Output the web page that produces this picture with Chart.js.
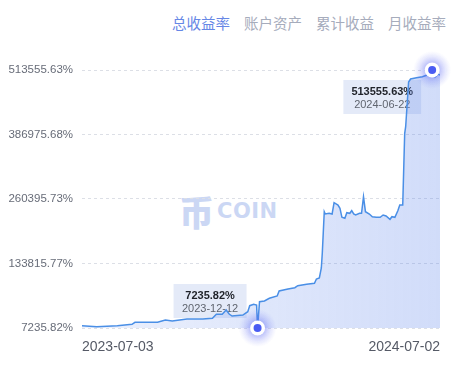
<!DOCTYPE html>
<html>
<head>
<meta charset="utf-8">
<script src="https://cdn.jsdelivr.net/npm/chart.js@4.4.1/dist/chart.umd.min.js"></script>
<style>
    html, body { margin: 0; padding: 0; background: #fff; }
    #wrap { position: relative; width: 465px; height: 369px; overflow: hidden; }
    #tabs { position: absolute; top: 12px; left: 172px; font-family: "Noto Sans CJK SC"; font-size: 14.5px; line-height: 22px; white-space: nowrap; }
    #tabs span { color: #a6acbc; margin-right: 14px; }
    #tabs span.active { color: #6687e6; }
    #mark { position: absolute; left: 179px; top: 193px; height: 36px; display: flex; align-items: center; color: #cbd7f4; font-weight: bold; white-space: nowrap; }
    #mark .bi { font-family: "Noto Sans CJK SC"; font-weight: 900; font-size: 35px; line-height: 36px; }
    #mark .coin { font-family: "DejaVu Sans"; font-weight: bold; font-size: 21px; letter-spacing: 0.5px; margin-left: 3px; }
    canvas { position: absolute; left: 0; top: 0; }
</style>
</head>
<body>
<div id="wrap">
    <div id="tabs"><span class="active">总收益率</span><span>账户资产</span><span>累计收益</span><span>月收益率</span></div>
    <div id="mark"><span class="bi">币</span><span class="coin">COIN</span></div>
    <canvas id="returnChart" width="465" height="369"></canvas>
</div>
<script>
// Total return curve, 2023-07-03 .. 2024-07-02
const xTickLabels = ['2023-07-03', '2024-07-02'];
const yTickValues = [7235.82, 133815.77, 260395.73, 386975.68, 513555.63];

// day offset from first date / total return (%)
const dayIndex = [
    0, 15, 36, 51, 54, 77, 85, 92, 107, 123,
    133, 137, 143, 147, 150, 153, 164, 169, 171, 175,
    178, 179, 181, 186, 191, 199, 201, 210, 217, 220,
    229, 237, 239, 242, 244, 245, 247, 248, 252, 255,
    257, 261, 263, 265, 268, 270, 273, 275, 277, 279,
    283, 285, 287, 289, 293, 296, 300, 304, 307, 310,
    314, 316, 319, 322, 324, 327, 329, 330, 333, 335,
    341, 347, 352, 357, 360, 363, 365
];
const totalReturn = [
    11750, 9787, 11750, 14497, 18422, 18422, 22936, 20973, 24898, 24898,
    26272, 34122, 34122, 42560, 34710, 30785, 32748, 39224, 51000, 53747,
    52374, 7235.82, 58850, 60224, 65523, 70036, 79849, 83774, 86325, 90250,
    92998, 94960, 103398, 105361, 124986, 154424, 235475, 230961, 232335, 230961,
    253137, 248623, 242147, 224485, 222522, 233512, 232335, 237437, 230961, 228999,
    232335, 232335, 264913, 235475, 230961, 225662, 224485, 224485, 228999, 227036,
    220560, 225662, 224485, 237437, 248623, 248623, 389333, 402285, 490000, 495899,
    498450, 500413, 503749, 513555.63, 499824, 505711, 503749
];

// highlighted points (min and max)
const markedDays = [179, 357];
const markedDates = ['2023-12-12', '2024-06-22'];

const FONT = '"Liberation Sans", Arial, sans-serif';

const markerPlugin = {
    id: 'markers',
    beforeDatasetsDraw(chart) {
        const ctx = chart.ctx;
        const meta = chart.getDatasetMeta(0);
        const area = chart.chartArea;
        markedDays.forEach((day, k) => {
            const i = dayIndex.indexOf(day);
            const pt = meta.data[i];
            const valueText = totalReturn[i].toFixed(2) + '%';
            ctx.save();
            ctx.font = 'bold 11px ' + FONT;
            const w1 = ctx.measureText(valueText).width;
            ctx.font = '11px ' + FONT;
            const w2 = ctx.measureText(markedDates[k]).width;
            const w = Math.max(73, Math.max(w1, w2) + 16);
            const h = 34;
            const bx = pt.x - 11 - w;
            const by = pt.y > (area.top + area.bottom) / 2 ? pt.y - 10 - h : pt.y + 10;
            ctx.fillStyle = 'rgba(218, 226, 245, 0.72)';
            ctx.fillRect(bx, by, w, h);
            ctx.textAlign = 'center';
            ctx.textBaseline = 'middle';
            ctx.fillStyle = '#1f2229';
            ctx.font = 'bold 11px ' + FONT;
            ctx.fillText(valueText, bx + w / 2, by + 11.5);
            ctx.fillStyle = '#60656f';
            ctx.font = '11px ' + FONT;
            ctx.fillText(markedDates[k], bx + w / 2, by + 24.5);
            ctx.restore();
        });
    },
    afterDatasetsDraw(chart) {
        const ctx = chart.ctx;
        const meta = chart.getDatasetMeta(0);
        markedDays.forEach((day) => {
            const pt = meta.data[dayIndex.indexOf(day)];
            ctx.save();
            const glow = ctx.createRadialGradient(pt.x, pt.y, 4, pt.x, pt.y, 19);
            glow.addColorStop(0, 'rgba(95, 105, 245, 0.35)');
            glow.addColorStop(1, 'rgba(95, 105, 245, 0)');
            ctx.fillStyle = glow;
            ctx.beginPath();
            ctx.arc(pt.x, pt.y, 19, 0, Math.PI * 2);
            ctx.fill();
            ctx.shadowColor = 'rgba(80, 95, 240, 0.45)';
            ctx.shadowBlur = 8;
            ctx.fillStyle = '#ffffff';
            ctx.beginPath();
            ctx.arc(pt.x, pt.y, 7.5, 0, Math.PI * 2);
            ctx.fill();
            ctx.shadowBlur = 0;
            ctx.fillStyle = '#4a5cf2';
            ctx.beginPath();
            ctx.arc(pt.x, pt.y, 4, 0, Math.PI * 2);
            ctx.fill();
            ctx.restore();
        });
    }
};

const canvas = document.getElementById('returnChart');
new Chart(canvas, {
    type: 'line',
    data: {
        datasets: [{
            data: dayIndex.map((d, i) => ({ x: d, y: totalReturn[i] })),
            borderColor: '#4a8fe6',
            borderWidth: 1.5,
            pointRadius: 0,
            tension: 0,
            fill: 'start',
            backgroundColor: (context) => {
                const area = context.chart.chartArea;
                if (!area) return 'rgba(90, 130, 235, 0.15)';
                const g = context.chart.ctx.createLinearGradient(area.left, 0, area.right, 0);
                g.addColorStop(0, 'rgba(90, 130, 235, 0.11)');
                g.addColorStop(1, 'rgba(90, 130, 235, 0.28)');
                return g;
            }
        }]
    },
    options: {
        responsive: false,
        animation: false,
        events: [],
        layout: {
            padding: { top: 70, right: 25, left: 0, bottom: 0 }
        },
        plugins: {
            legend: { display: false },
            tooltip: { enabled: false }
        },
        scales: {
            x: {
                type: 'linear',
                min: 0,
                max: 365,
                grid: { display: false, drawTicks: false },
                border: { display: false },
                afterBuildTicks: (scale) => {
                    scale.ticks = [{ value: 0 }, { value: 365 }];
                },
                afterFit: (scale) => { scale.height = 41; },
                ticks: {
                    align: 'inner',
                    autoSkip: false,
                    maxRotation: 0,
                    padding: 11,
                    color: '#555a66',
                    font: { family: FONT, size: 14 },
                    callback: (value, index) => xTickLabels[index]
                }
            },
            y: {
                type: 'linear',
                min: yTickValues[0],
                max: yTickValues[yTickValues.length - 1],
                grid: { color: '#dcdfe6', drawTicks: false },
                border: { display: false, dash: [3, 3] },
                afterBuildTicks: (scale) => {
                    scale.ticks = yTickValues.map(v => ({ value: v }));
                },
                afterFit: (scale) => { scale.width = 82; },
                ticks: {
                    padding: 9,
                    color: '#676c78',
                    font: { family: FONT, size: 11.5 },
                    callback: (value, index) => yTickValues[index].toFixed(2) + '%'
                }
            }
        }
    },
    plugins: [markerPlugin]
});
</script>
</body>
</html>
